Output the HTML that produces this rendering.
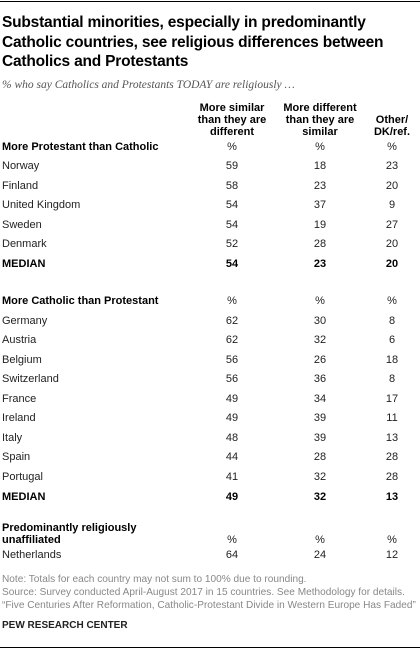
<!DOCTYPE html>
<html><head><meta charset="utf-8"><style>
body{margin:0;width:420px;height:649px;background:#fff;position:relative;overflow:hidden;font-family:"Liberation Sans",sans-serif;color:#000}
.a{position:absolute;white-space:nowrap}
.t{left:2px;font-size:15.5px;font-weight:bold;line-height:19.5px;top:13px;letter-spacing:-0.2px}
.sub{left:2px;top:79px;font-size:11.5px;font-style:italic;color:#555;font-family:"Liberation Serif",serif}
.h{font-size:11px;font-weight:bold;text-align:center;line-height:12px;width:90px;margin-left:-45px}
.r{font-size:11px;color:#222}
.c{width:40px;margin-left:-20px;text-align:center;font-size:11px;color:#222}
.b{font-weight:bold;color:#000}
.n{left:2px;font-size:10.1px;color:#888;line-height:13px}
.line{position:absolute;left:0;width:420px;height:1px;background:#000}
</style></head><body>
<div class="line" style="top:1px"></div>
<div class="a t">Substantial minorities, especially in predominantly<br>Catholic countries, see religious differences between<br>Catholics and Protestants</div>
<div class="a sub">% who say Catholics and Protestants TODAY are religiously …</div>
<div class="a h" style="left:232px;top:102px">More similar<br>than they are<br>different</div>
<div class="a h" style="left:320px;top:102px">More different<br>than they are<br>similar</div>
<div class="a h" style="left:392px;top:114px">Other/<br>DK/ref.</div>
<div id="tbl"></div>
<div class="a n" style="top:573px">Note: Totals for each country may not sum to 100% due to rounding.<br>Source: Survey conducted April-August 2017 in 15 countries. See Methodology for details.<br>“Five Centuries After Reformation, Catholic-Protestant Divide in Western Europe Has Faded”</div>
<div class="a" style="left:2px;top:620px;font-size:10px;font-weight:bold;color:#222">PEW RESEARCH CENTER</div>
<div class="line" style="top:647px"></div>
<script>
const countries=["Norway","Finland","United Kingdom","Sweden","Denmark","MEDIAN","Germany","Austria","Belgium","Switzerland","France","Ireland","Italy","Spain","Portugal","MEDIAN","Netherlands"];
const similar=[59,58,54,54,52,54,62,62,56,56,49,49,48,44,41,49,64];
const different=[18,23,37,19,28,23,30,32,26,36,34,39,39,28,32,32,24];
const other=[23,20,9,27,20,20,8,6,18,8,17,11,13,28,28,13,12];
const rowTops=[160,180,199,219,238,258,315,334,354,373,393,412,432,451,471,491,549];
const sections=[["More Protestant than Catholic",141],["More Catholic than Protestant",295],["Predominantly religiously<br>unaffiliated",522]];
const pctTops=[141,295,534];
const cols=[232,320,392];
const tbl=document.getElementById('tbl');
function mk(cls,html,left,top){const d=document.createElement('div');d.className='a '+cls;d.innerHTML=html;d.style.left=left+'px';d.style.top=top+'px';tbl.appendChild(d);return d;}
sections.forEach((s,i)=>{
  const e=mk('r b',s[0],2,s[1]);e.style.lineHeight='12px';
  
  
  cols.forEach(x=>{const p=mk('c','%',x,pctTops[i]);
    
    });
});
countries.forEach((c,i)=>{
  const bold=c==='MEDIAN'?' b':'';
  const l=mk('r'+bold,c,2,rowTops[i]);
  
  
  [similar[i],different[i],other[i]].forEach((v,j)=>{
    const d=mk('c'+bold,v,cols[j],rowTops[i]);
    
    
  });
});
</script>
</body></html>
